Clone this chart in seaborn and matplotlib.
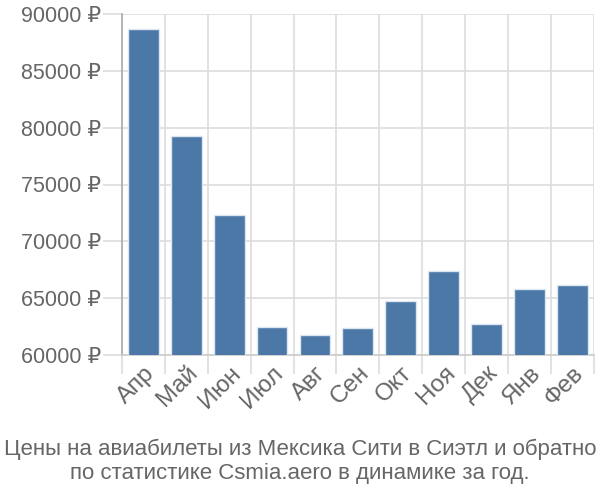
import matplotlib
matplotlib.use("Agg")
import matplotlib.pyplot as plt
import seaborn as sns
import pandas as pd
import numpy as np

months = ["Апр", "Май", "Июн", "Июл", "Авг", "Сен", "Окт", "Ноя", "Дек", "Янв", "Фев"]
prices = [88680, 79260, 72280, 62440, 61800, 62410, 64760, 67370, 62770, 65850, 66200]
yticks = [60000, 65000, 70000, 75000, 80000, 85000, 90000]
title = "Цены на авиабилеты из Мексика Сити в Сиэтл и обратно\nпо статистике Csmia.aero в динамике за год."

sns.set_theme(style="white")
plt.rcParams['font.family'] = ['Liberation Sans', 'DejaVu Sans']

df = pd.DataFrame({"month": months, "price": prices})

fig = plt.figure(figsize=(6, 5), dpi=100)
ax = fig.add_axes([0.203, 0.29, 0.787, 0.682])

sns.barplot(data=df, x="month", y="price", color="#4c78a8", saturation=1,
            width=0.72, edgecolor="#dce6f0", linewidth=1, ax=ax, zorder=3)

ax.set_ylim(60000, 90000)
ax.set_xlim(-0.5, len(months) - 0.5)
ax.set_yticks(yticks)
ax.set_yticklabels([f"{v} ₽" for v in yticks])
ax.set_xticks(np.arange(-0.5, len(months), 1.0), minor=True)
ax.set_xlabel("")
ax.set_ylabel("")

ax.grid(True, which="major", axis="y", color="#dddddd", linewidth=1.2, zorder=0)
ax.grid(True, which="minor", axis="x", color="#dddddd", linewidth=1.2, zorder=0)
ax.set_axisbelow(True)

ax.tick_params(axis="x", which="major", length=0, pad=5, labelsize=17.5, labelcolor="#666666")
ax.tick_params(axis="x", which="minor", length=14, color="#dddddd", width=1.2, direction="out", bottom=True)
ax.tick_params(axis="y", which="major", length=14, color="#dddddd", width=1.2, pad=1, labelsize=15.5, labelcolor="#666666", left=True)
for lab in ax.get_xticklabels():
    lab.set_rotation(45)
    lab.set_ha("right")
    lab.set_va("top")
    lab.set_rotation_mode("anchor")

for s in ["top", "right"]:
    ax.spines[s].set_visible(False)
ax.spines["left"].set_color("#aaaaaa")
ax.spines["left"].set_linewidth(1.2)
ax.spines["bottom"].set_color("#cccccc")
ax.spines["bottom"].set_linewidth(1.2)

fig.text(0.5, 0.078, title, ha="center", va="center", fontsize=16, color="#666666", linespacing=1.2)

fig.savefig("out.png", dpi=100)
